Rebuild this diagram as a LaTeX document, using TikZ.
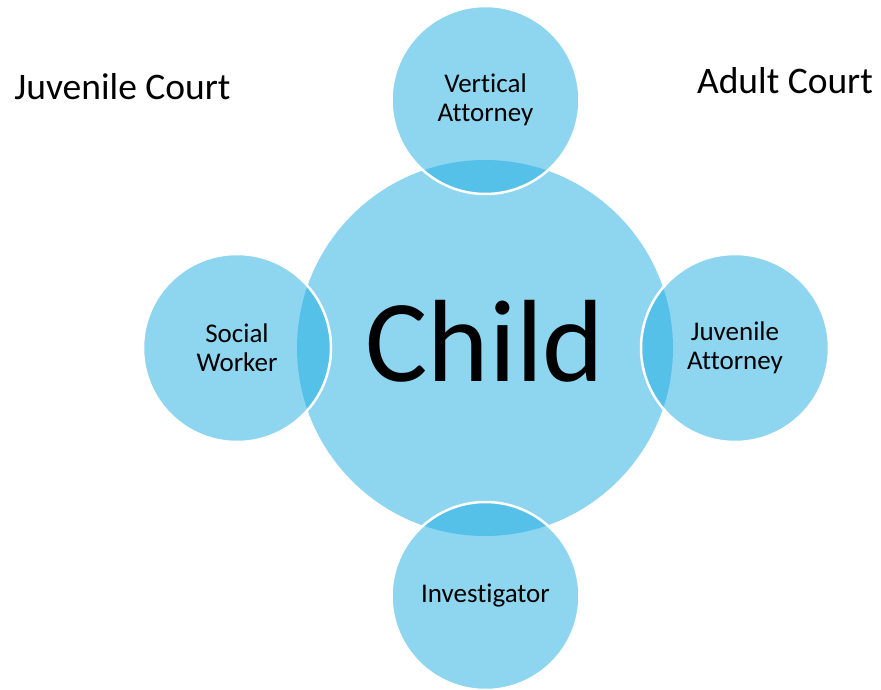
\documentclass[tikz,border=0pt]{standalone}
\usepackage{fontspec}
\setmainfont{Carlito}[Ligatures=NoCommon]
\usetikzlibrary{positioning}

\definecolor{ringblue}{RGB}{29,171,225}

\begin{document}
\begin{tikzpicture}[x=1pt,y=-1pt,
		hub/.style={circle,fill=ringblue,fill opacity=.5,text opacity=1,minimum size=376pt,inner sep=0pt,text depth=14pt,font=\fontsize{117}{117}\selectfont},
		role/.style={circle,fill=ringblue,fill opacity=.5,text opacity=1,draw=white,draw opacity=1,line width=2.5pt,minimum size=188pt,inner sep=0pt,align=center,font=\fontsize{27}{29}\selectfont},
		court/.style={font=\fontsize{37.5}{40}\selectfont}]
				\useasboundingbox (0,0) rectangle (881,690);
				\node[hub](child) at (485,348) {Child};
				\node[role](vertical) at (485.5,100) {Vertical\\Attorney};
				\node[role](social) at (237,348) {Social\\Worker};
				\node[role](juvatt) at (735,348) {Juvenile\\Attorney};
				\node[role](invest) at (485.5,596) {Investigator};
				\node[court](juvcourt) at (122.5,87) {Juvenile Court};
				\node[court](adcourt) at (785,81) {Adult Court};
			\end{tikzpicture}
\end{document}
